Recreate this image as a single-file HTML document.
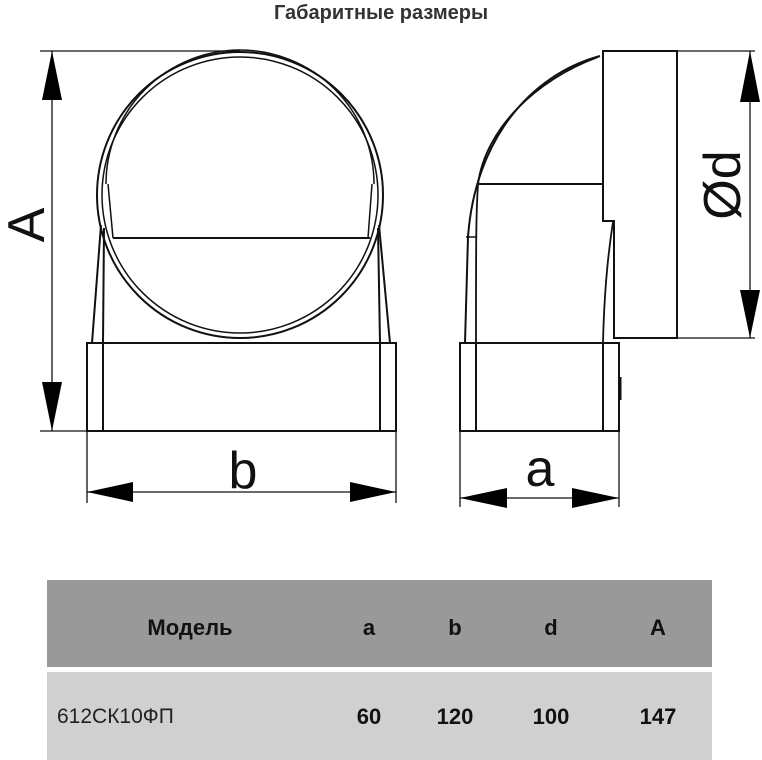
<!DOCTYPE html>
<html><head><meta charset="utf-8"><style>
html,body{margin:0;padding:0;background:#fff;width:762px;height:760px;overflow:hidden;font-family:"Liberation Sans",sans-serif}
.t{position:absolute;left:0;width:762px;text-align:center;top:2px;font-weight:bold;font-size:20px;color:#333}
.h{position:absolute;left:47px;top:580px;width:665px;height:87px;background:#999}
.r{position:absolute;left:47px;top:672px;width:665px;height:88px;background:#d0d0d0}
.c{position:absolute;font-size:22px;font-weight:bold;color:#111;transform:translate(-50%,-50%)}
</style></head><body>
<div class="t">Габаритные размеры</div>
<svg width="762" height="560" style="position:absolute;left:0;top:0" fill="none" stroke="#111" stroke-width="2">
<line x1="40" y1="51" x2="240" y2="51" stroke-width="1.3"/>
<line x1="40" y1="431" x2="87" y2="431" stroke-width="1.3"/>
<line x1="52" y1="51" x2="52" y2="431" stroke-width="1.3"/>
<polygon points="52,51 42,100 62,100" fill="#000" stroke="none"/>
<polygon points="52,431 42,382 62,382" fill="#000" stroke="none"/>
<circle cx="240" cy="195" r="143"/>
<circle cx="240" cy="195" r="138" stroke-width="1.5"/>
<path d="M106 184 A134 134 0 0 1 374 184" stroke-width="1.5"/>
<line x1="113" y1="238" x2="370" y2="238"/>
<line x1="108" y1="184" x2="113" y2="238" stroke-width="1.5"/>
<line x1="372" y1="184" x2="368" y2="238" stroke-width="1.5"/>
<line x1="92" y1="343" x2="101" y2="225"/>
<line x1="103" y1="343" x2="104" y2="228"/>
<line x1="390" y1="343" x2="379" y2="225"/>
<line x1="380" y1="343" x2="378" y2="228"/>
<rect x="87" y="343" width="309" height="88"/>
<line x1="103" y1="343" x2="103" y2="431"/>
<line x1="380" y1="343" x2="380" y2="431"/>
<line x1="87" y1="431" x2="87" y2="503" stroke-width="1.3"/>
<line x1="396" y1="431" x2="396" y2="503" stroke-width="1.3"/>
<line x1="87" y1="492" x2="396" y2="492" stroke-width="1.3"/>
<polygon points="87,492 133,482 133,502" fill="#000" stroke="none"/>
<polygon points="396,492 350,482 350,502" fill="#000" stroke="none"/>
<line x1="677" y1="51" x2="755" y2="51" stroke-width="1.3"/>
<line x1="677" y1="338" x2="755" y2="338" stroke-width="1.3"/>
<line x1="750" y1="51" x2="750" y2="338" stroke-width="1.3"/>
<polygon points="750,51 740,102 760,102" fill="#000" stroke="none"/>
<polygon points="750,338 740,290 760,290" fill="#000" stroke="none"/>
<path d="M603 51 H677 V338 H614 V221 H603 Z"/>
<path d="M600 56 C530 75 475 140 468 237 L465 343"/>
<path d="M598 57 C535 80 485 130 478 184 C476 215 476 240 476 343" stroke-width="1.8"/>
<line x1="478" y1="184" x2="603" y2="184"/>
<line x1="466" y1="237" x2="476" y2="237" stroke-width="1.5"/>
<path d="M613 222 C607 260 604 300 603 343" stroke-width="1.8"/>
<rect x="460" y="343" width="159" height="88"/>
<line x1="476" y1="343" x2="476" y2="431"/>
<line x1="603" y1="343" x2="603" y2="431"/>
<line x1="620" y1="377" x2="620" y2="400" stroke-width="3"/>
<line x1="460" y1="431" x2="460" y2="507" stroke-width="1.3"/>
<line x1="619" y1="431" x2="619" y2="507" stroke-width="1.3"/>
<line x1="460" y1="498" x2="619" y2="498" stroke-width="1.3"/>
<polygon points="460,498 507,488 507,508" fill="#000" stroke="none"/>
<polygon points="619,498 572,488 572,508" fill="#000" stroke="none"/>
<g fill="#111" stroke="none" font-family="Liberation Sans, sans-serif" font-size="52">
<text x="243" y="488" text-anchor="middle">b</text>
<text x="540" y="486" text-anchor="middle">a</text>
<text transform="translate(44,225) rotate(-90)" text-anchor="middle">A</text>
<text transform="translate(740,185) rotate(-90)" text-anchor="middle">Ød</text>
</g>
</svg>
<div class="h"></div><div class="r"></div>
<div class="c" style="left:190px;top:628px">Модель</div>
<div class="c" style="left:369px;top:628px">a</div>
<div class="c" style="left:455px;top:628px">b</div>
<div class="c" style="left:551px;top:628px">d</div>
<div class="c" style="left:658px;top:628px">A</div>
<div class="c" style="left:57px;top:717px;transform:translate(0,-50%);font-weight:normal;color:#222;font-size:21px">612СК10ФП</div>
<div class="c" style="left:369px;top:717px">60</div>
<div class="c" style="left:455px;top:717px">120</div>
<div class="c" style="left:551px;top:717px">100</div>
<div class="c" style="left:658px;top:717px">147</div>
</body></html>
